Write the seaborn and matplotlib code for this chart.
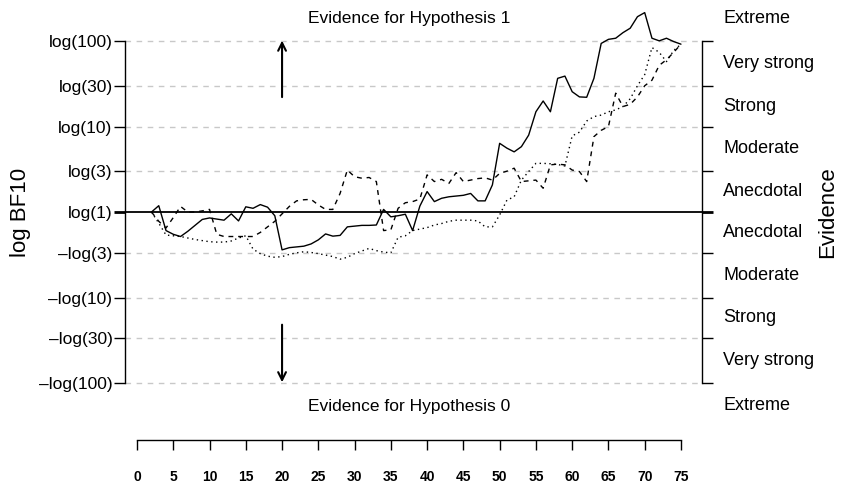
import numpy as np
import pandas as pd
import matplotlib
matplotlib.use("Agg")
import matplotlib.pyplot as plt
import seaborn as sns

# observation number and log BF10 for the three sequential curves
n_obs = list(range(2, 76))
solid_bf = [0.0, 0.17, -0.50, -0.60, -0.66, -0.52, -0.36, -0.20, -0.16, -0.19,
            -0.22, -0.05, -0.24, 0.14, 0.10, 0.20, 0.13, -0.10, -1.02, -0.96,
            -0.94, -0.92, -0.86, -0.75, -0.59, -0.65, -0.63, -0.40, -0.38, -0.36,
            -0.36, -0.35, 0.07, -0.13, -0.10, -0.06, -0.50, 0.16, 0.55, 0.28,
            0.37, 0.41, 0.43, 0.45, 0.50, 0.30, 0.30, 0.73, 1.85, 1.72,
            1.62, 1.76, 2.07, 2.70, 2.99, 2.70, 3.60, 3.66, 3.24, 3.10,
            3.09, 3.60, 4.54, 4.65, 4.68, 4.83, 4.95, 5.26, 5.37, 4.68,
            4.61, 4.68, 4.59, 4.52]
dashed_bf = [0.0, -0.25, -0.43, -0.15, 0.15, 0.0, 0.0, 0.03, 0.07, -0.60,
             -0.66, -0.66, -0.66, -0.66, -0.66, -0.55, -0.40, -0.25, -0.05, 0.15,
             0.30, 0.33, 0.34, 0.19, 0.07, 0.07, 0.50, 1.13, 0.95, 0.91,
             0.93, 0.82, -0.50, -0.48, 0.10, 0.25, 0.28, 0.35, 1.00, 0.82,
             0.88, 0.77, 1.06, 0.82, 0.86, 0.90, 0.92, 0.86, 1.04, 1.10,
             1.18, 0.82, 0.84, 0.86, 0.64, 1.27, 1.29, 1.27, 1.13, 1.09,
             0.82, 2.03, 2.20, 2.30, 3.20, 2.84, 2.90, 3.10, 3.40, 3.55,
             3.95, 4.10, 4.30, 4.52]
dotted_bf = [0.0, -0.30, -0.62, -0.64, -0.66, -0.70, -0.74, -0.77, -0.80, -0.81,
             -0.81, -0.78, -0.70, -0.64, -1.00, -1.12, -1.19, -1.22, -1.20, -1.14,
             -1.10, -1.07, -1.09, -1.12, -1.16, -1.20, -1.27, -1.22, -1.12, -1.05,
             -0.98, -1.04, -1.08, -1.10, -0.68, -0.64, -0.50, -0.46, -0.42, -0.35,
             -0.31, -0.25, -0.22, -0.22, -0.22, -0.24, -0.40, -0.40, -0.08, 0.32,
             0.41, 0.86, 1.09, 1.31, 1.31, 1.30, 1.28, 1.24, 2.05, 2.15,
             2.45, 2.57, 2.61, 2.70, 2.75, 2.84, 3.05, 3.40, 3.70, 4.43,
             4.30, 4.05, 4.35, 4.52]

bf_levels = [1 / 100, 1 / 30, 1 / 10, 1 / 3, 1, 3, 10, 30, 100]
bf_labels = ["\u2013log(100)", "\u2013log(30)", "\u2013log(10)", "\u2013log(3)", "log(1)",
             "log(3)", "log(10)", "log(30)", "log(100)"]
evidence_labels = ["Extreme", "Very strong", "Strong", "Moderate", "Anecdotal",
                   "Anecdotal", "Moderate", "Strong", "Very strong", "Extreme"]
x_ticks = list(range(0, 80, 5))

sns.set_theme(style="white")
plt.rcParams["font.family"] = ["Liberation Sans", "DejaVu Sans"]
plt.rcParams.update({"text.color": "black", "axes.labelcolor": "black",
                     "xtick.color": "black", "ytick.color": "black"})

df = pd.DataFrame({
    "n": n_obs * 3,
    "logbf": solid_bf + dashed_bf + dotted_bf,
    "curve": ["solid"] * len(n_obs) + ["dashed"] * len(n_obs) + ["dotted"] * len(n_obs),
})

fig = plt.figure(figsize=(8.42, 4.86), dpi=100)
ax = fig.add_axes([125 / 842, 1 - 440 / 486, (702 - 125) / 842, (440 - 5) / 486])

yt = np.log(bf_levels)
for v in yt:
    if v == 0:
        ax.axhline(0, color="black", lw=1.3, zorder=1)
    else:
        ax.axhline(v, color="#c8c8c8", lw=1, dashes=(4, 4), zorder=0)

sns.lineplot(data=df, x="n", y="logbf", style="curve", color="black", lw=1,
             dashes={"solid": "", "dashed": (3.5, 3.5), "dotted": (1, 2.5)},
             estimator=None, sort=False, legend=False, ax=ax)

ax.set_xlim(-1.655, 77.9)
ax.set_ylim(-6.14, 5.575)

ax.spines["top"].set_visible(False)
for side in ["left", "right", "bottom"]:
    ax.spines[side].set_color("black")
    ax.spines[side].set_linewidth(1)
ax.spines["left"].set_bounds(yt[0], yt[-1])
ax.spines["right"].set_bounds(yt[0], yt[-1])
ax.spines["bottom"].set_bounds(0, 75)

ax.set_yticks(yt)
ax.set_yticklabels(bf_labels, fontsize=12.5)
ax.set_xticks(x_ticks)
ax.set_xticklabels([str(t) for t in x_ticks], fontsize=10, fontweight="bold")
ax.tick_params(axis="y", which="major", left=True, right=True, labelright=False,
               direction="out", length=8, width=1, color="black", labelcolor="black", pad=1)
ax.tick_params(axis="x", which="major", bottom=True, direction="out", length=7.5,
               width=1, color="black", labelcolor="black", pad=14)
zero_tick = ax.yaxis.get_major_ticks()[4]
zero_tick.tick1line.set_markeredgewidth(2)
zero_tick.tick2line.set_markeredgewidth(2)

ax.set_xlabel("")
ax.set_ylabel("log BF10", fontsize=16, color="black")
ax.yaxis.set_label_coords((31 - 125) / 577, (440 - 212) / 435)

# evidence category labels on the right, between the ticks
mids = [yt[0] - 0.6] + [(a + b) / 2 for a, b in zip(yt[:-1], yt[1:])] + [yt[-1] + 0.6]
for m, lab in zip(mids, evidence_labels):
    ax.text(80.8, m, lab, fontsize=13, ha="left", va="center", clip_on=False, color="black")
fig.text(828 / 842, 1 - 212 / 486, "Evidence", rotation=90, fontsize=16,
         ha="center", va="center", color="black")

ax.text(37.5, 5.22, "Evidence for Hypothesis 1", fontsize=12.5, ha="center", va="center")
ax.text(37.5, -5.25, "Evidence for Hypothesis 0", fontsize=12.5, ha="center", va="center")

ax.annotate("", xy=(20, 4.69), xytext=(20, 3.02),
            arrowprops=dict(arrowstyle="->", lw=1.5, color="black", mutation_scale=14))
ax.annotate("", xy=(20, -4.66), xytext=(20, -2.96),
            arrowprops=dict(arrowstyle="->", lw=1.5, color="black", mutation_scale=14))

fig.savefig("out.png", dpi=100)
